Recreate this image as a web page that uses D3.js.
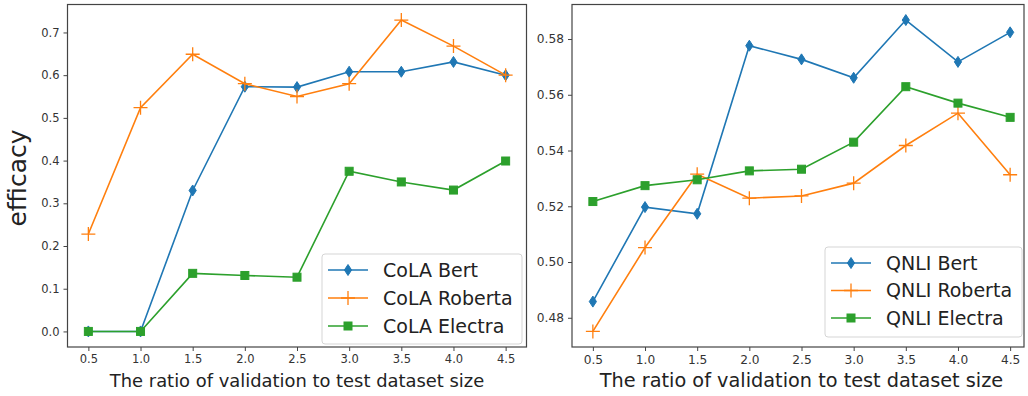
<!DOCTYPE html>
<html>
<head>
<meta charset="utf-8">
<script src="https://cdn.jsdelivr.net/npm/d3@7"></script>
<style>
  html, body { margin: 0; padding: 0; background: #fff; }
  svg { display: block; font-family: "DejaVu Sans", sans-serif; }
</style>
</head>
<body>
<div id="chart"></div>
<script>
// x positions shared by both panels
const ratios = [0.5, 1.0, 1.5, 2.0, 2.5, 3.0, 3.5, 4.0, 4.5];
const xTicks = [0.5, 1.0, 1.5, 2.0, 2.5, 3.0, 3.5, 4.0, 4.5];

// CoLA panel
const colaBert    = [0.0, 0.0, 0.330, 0.573, 0.572, 0.608, 0.608, 0.631, 0.600];
const colaRoberta = [0.228, 0.524, 0.649, 0.580, 0.550, 0.580, 0.729, 0.668, 0.600];
const colaElectra = [0.0, 0.0, 0.136, 0.131, 0.127, 0.375, 0.350, 0.331, 0.399];
const colaYTicks  = [0.0, 0.1, 0.2, 0.3, 0.4, 0.5, 0.6, 0.7];

// QNLI panel
const qnliBert    = [0.4858, 0.5197, 0.5173, 0.5776, 0.5727, 0.5661, 0.5868, 0.5718, 0.5824];
const qnliRoberta = [0.4751, 0.5052, 0.5315, 0.5229, 0.5237, 0.5283, 0.5418, 0.5534, 0.5313];
const qnliElectra = [0.5217, 0.5274, 0.5295, 0.5327, 0.5333, 0.5430, 0.5629, 0.5570, 0.5519];
const qnliYTicks  = [0.48, 0.50, 0.52, 0.54, 0.56, 0.58];

const xLabel = 'The ratio of validation to test dataset size';
const yLabel = 'efficacy';

const colors = { bert: '#1f77b4', roberta: '#ff7f0e', electra: '#2ca02c' };

const W = 1028, H = 396;
const svg = d3.select('#chart').append('svg').attr('width', W).attr('height', H);

// matplotlib-style 5% padding
function padded(vals) {
  const [lo, hi] = d3.extent(vals);
  const m = (hi - lo) * 0.05;
  return [lo - m, hi + m];
}

function marker(g, kind, color) {
  if (kind === 'diamond') {
    g.append('path').attr('d', 'M0,-5.5L3.6,0L0,5.5L-3.6,0Z')
      .attr('fill', color).attr('stroke', color).attr('stroke-width', 1);
  } else if (kind === 'plus') {
    g.append('path').attr('d', 'M-7,0H7M0,-7V7')
      .attr('stroke', color).attr('stroke-width', 1.3).attr('fill', 'none');
  } else {
    g.append('rect').attr('x', -4).attr('y', -4).attr('width', 8).attr('height', 8)
      .attr('fill', color).attr('stroke', color).attr('stroke-width', 1);
  }
}

function panel(cfg) {
  const x = d3.scaleLinear().domain([0.3, 4.7]).range([cfg.left, cfg.right]);
  const all = cfg.series.flatMap(s => s.values);
  const y = d3.scaleLinear().domain(padded(all)).range([347, 4.5]);
  const g = svg.append('g');
  const frameRight = Math.min(cfg.right, cfg.clipRight);

  // axes
  const ax = g.append('g').attr('transform', 'translate(0,347)')
    .call(d3.axisBottom(x).tickValues(xTicks).tickFormat(d3.format('.1f')).tickSize(4).tickPadding(4));
  ax.selectAll('text').attr('font-size', cfg.tickSize).attr('fill', '#333')
    .attr('font-family', '"DejaVu Sans", sans-serif');
  const ay = g.append('g').attr('transform', `translate(${cfg.left},0)`)
    .call(d3.axisLeft(y).tickValues(cfg.yTicks).tickFormat(d3.format(cfg.yFmt)).tickSize(4).tickPadding(4));
  ay.selectAll('text').attr('font-size', cfg.tickSize).attr('fill', '#333')
    .attr('font-family', '"DejaVu Sans", sans-serif');
  g.selectAll('.domain').remove();
  g.selectAll('.tick line').attr('stroke', '#444');

  // series
  const line = d3.line().x((d, i) => x(ratios[i])).y(d => y(d));
  cfg.series.forEach(s => {
    g.append('path').datum(s.values).attr('d', line)
      .attr('fill', 'none').attr('stroke', s.color).attr('stroke-width', 1.6);
    s.values.forEach((v, i) => {
      marker(g.append('g').attr('transform', `translate(${x(ratios[i])},${y(v)})`), s.marker, s.color);
    });
  });

  // frame
  g.append('rect').attr('x', cfg.left).attr('y', 4.5)
    .attr('width', frameRight - cfg.left).attr('height', 347 - 4.5)
    .attr('fill', 'none').attr('stroke', '#444').attr('stroke-width', 1.2);

  // x label
  g.append('text').attr('x', (cfg.left + cfg.right) / 2).attr('y', 387)
    .attr('text-anchor', 'middle').attr('font-size', cfg.labelSize).attr('fill', '#222')
    .text(xLabel);

  // legend
  const lg = g.append('g');
  lg.append('rect').attr('x', cfg.leg.x).attr('y', cfg.leg.y)
    .attr('width', cfg.leg.w).attr('height', cfg.leg.h).attr('rx', 3)
    .attr('fill', '#fff').attr('fill-opacity', 0.85).attr('stroke', '#d5d5d5');
  cfg.series.forEach((s, i) => {
    const cy = cfg.leg.y + 16 + i * cfg.leg.step;
    const hx = cfg.leg.x + 6;
    lg.append('line').attr('x1', hx).attr('x2', hx + 40).attr('y1', cy).attr('y2', cy)
      .attr('stroke', s.color).attr('stroke-width', 1.6);
    marker(lg.append('g').attr('transform', `translate(${hx + 20},${cy})`), s.marker, s.color);
    lg.append('text').attr('x', hx + 55).attr('y', cy).attr('dy', '0.36em')
      .attr('font-size', 19).attr('fill', '#222').text(s.name);
  });
}

panel({
  left: 67.5, right: 526.5, clipRight: 1028,
  yTicks: colaYTicks, yFmt: '.1f', tickSize: 11.5, labelSize: 17.9,
  leg: { x: 322, y: 254, w: 200, h: 90, step: 28 },
  series: [
    { name: 'CoLA Bert', values: colaBert, color: colors.bert, marker: 'diamond' },
    { name: 'CoLA Roberta', values: colaRoberta, color: colors.roberta, marker: 'plus' },
    { name: 'CoLA Electra', values: colaElectra, color: colors.electra, marker: 'square' }
  ]
});

panel({
  left: 572, right: 1031, clipRight: 1024,
  yTicks: qnliYTicks, yFmt: '.2f', tickSize: 12.2, labelSize: 19.3,
  leg: { x: 825, y: 247, w: 197, h: 90, step: 27.5 },
  series: [
    { name: 'QNLI Bert', values: qnliBert, color: colors.bert, marker: 'diamond' },
    { name: 'QNLI Roberta', values: qnliRoberta, color: colors.roberta, marker: 'plus' },
    { name: 'QNLI Electra', values: qnliElectra, color: colors.electra, marker: 'square' }
  ]
});

// shared y label
svg.append('text').attr('transform', 'translate(26,178) rotate(-90)')
  .attr('text-anchor', 'middle').attr('font-size', 25).attr('fill', '#222').text(yLabel);
</script>
</body>
</html>
